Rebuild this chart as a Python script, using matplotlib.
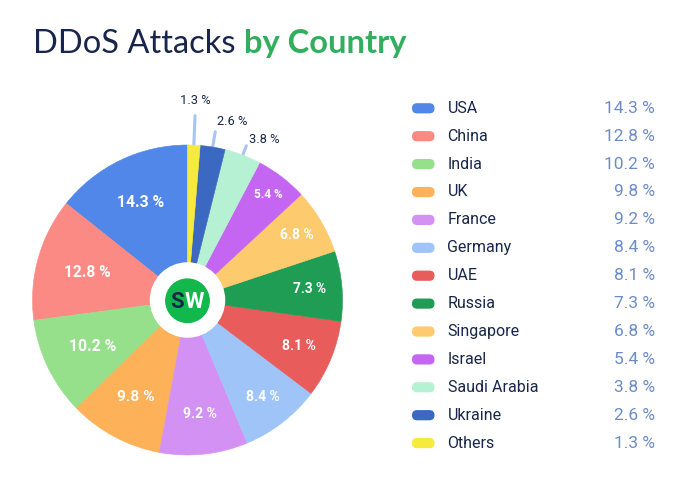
import numpy as np
import matplotlib.pyplot as plt
from matplotlib.patches import Circle, FancyBboxPatch

countries = ["USA", "China", "India", "UK", "France", "Germany", "UAE", "Russia",
             "Singapore", "Israel", "Saudi Arabia", "Ukraine", "Others"]
shares = [14.3, 12.8, 10.2, 9.8, 9.2, 8.4, 8.1, 7.3, 6.8, 5.4, 3.8, 2.6, 1.3]
colors = ["#5187e8", "#fb8a85", "#97e08b", "#fdb158", "#d491f4", "#9fc5f8", "#e85c5c",
          "#1f9d55", "#fdca6e", "#c566f3", "#b7f1d4", "#3b68c0", "#f6ea3c"]

# styling for the in-slice labels (radius as fraction of pie radius, font size)
inner_r = [0.70, 0.67, 0.68, 0.71, 0.74, 0.79, 0.78, 0.79, 0.82, 0.86]
inner_fs = [11.3, 11.2, 11.3, 11.1, 10.0, 10.0, 10.0, 9.8, 10.0, 8.5]
# styling for the small slices: (line end radius, text radius, alignment)
outer_style = {10: (1.065, 1.11, "left"), 11: (1.10, 1.17, "left"), 12: (1.19, 1.29, "center")}

navy = "#17264a"
green = "#33ad5e"
value_blue = "#6c8cc9"
line_blue = "#a9c4f2"

W, H = 689, 482
fig = plt.figure(figsize=(W / 100, H / 100), dpi=100)

# title
renderer = fig.canvas.get_renderer()
t1 = fig.text(33 / W, 1 - 53 / H, "DDoS Attacks ", fontsize=23.5, family="Lato",
              color=navy, va="baseline", ha="left")
bb = t1.get_window_extent(renderer)
fig.text(bb.x1 / W, 1 - 53 / H, "by Country", fontsize=23.5, family="Lato",
         fontweight="bold", color=green, va="baseline", ha="left")

# pie
cx, cy, R = 187.5, 300, 155
ax = fig.add_axes([(cx - R) / W, (H - cy - R) / H, 2 * R / W, 2 * R / H])
wedges, _ = ax.pie(shares, colors=colors, startangle=90, counterclock=True, radius=1)
for w in wedges:
    w.set_edgecolor(w.get_facecolor())
    w.set_linewidth(0.4)
ax.set_xlim(-1, 1)
ax.set_ylim(-1, 1)
ax.axis("off")

for i, w in enumerate(wedges):
    mid = np.deg2rad((w.theta1 + w.theta2) / 2)
    label = f"{shares[i]} %"
    if i in outer_style:
        r_line, r_txt, ha = outer_style[i]
        ax.plot([np.cos(mid) * 1.0, np.cos(mid) * r_line],
                [np.sin(mid) * 1.0, np.sin(mid) * r_line],
                color=line_blue, lw=2.2, solid_capstyle="round", clip_on=False, zorder=0)
        ax.text(np.cos(mid) * r_txt, np.sin(mid) * r_txt, label, ha=ha, va="center",
                fontsize=9.3, family="Roboto", color=navy, clip_on=False)
    else:
        ax.text(np.cos(mid) * inner_r[i], np.sin(mid) * inner_r[i], label,
                ha="center", va="center", fontsize=inner_fs[i], family="Roboto",
                fontweight="bold", color="white")

# centre logo
ax.add_patch(Circle((0, 0), 0.239, color="white", zorder=5))
ax.add_patch(Circle((0, -0.005), 0.14, color="#13b84c", zorder=6))
ax.text(-0.025, -0.012, "S", ha="right", va="center", fontsize=16, fontweight="bold",
        family="Roboto", color=navy, zorder=7)
ax.text(-0.02, -0.012, "W", ha="left", va="center", fontsize=16, fontweight="bold",
        family="Roboto", color="white", zorder=7)

# legend
lax = fig.add_axes([0, 0, 1, 1])
lax.set_xlim(0, W)
lax.set_ylim(H, 0)
lax.axis("off")
lax.patch.set_alpha(0)
for i, (name, val, col) in enumerate(zip(countries, shares, colors)):
    y = 108.3 + i * 27.9
    lax.add_patch(FancyBboxPatch((417, y - 0.1), 12.5, 0.2,
                                 boxstyle="round,pad=5", color=col, lw=0))
    lax.text(447.5, y, name, ha="left", va="center", fontsize=11.5,
             family="Roboto", color=navy)
    lax.text(655, y, f"{val} %", ha="right", va="center", fontsize=12.5,
             family="Roboto", color=value_blue)

fig.savefig("out.png", dpi=100)
